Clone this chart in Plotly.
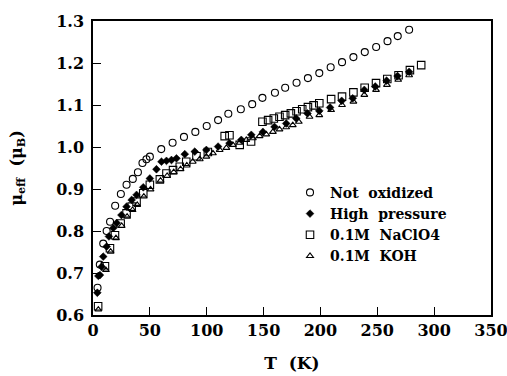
import plotly.graph_objects as go

# Not oxidized (open circles)
T_not = [4, 6, 9, 12, 15, 19.5, 24.5, 29.5, 35, 39.5, 43.5, 47, 50, 60, 70, 80, 90, 100, 110, 119, 130, 140,
         149, 160, 169, 179, 189, 199, 209, 219, 229, 239, 249, 259, 268, 278]
mu_not = [0.665, 0.72, 0.77, 0.80, 0.822, 0.860, 0.888, 0.910, 0.924, 0.940, 0.962, 0.971, 0.977, 0.995, 1.010,
          1.024, 1.036, 1.050, 1.064, 1.079, 1.090, 1.102, 1.117, 1.129, 1.141, 1.153, 1.164, 1.176, 1.190,
          1.202, 1.214, 1.226, 1.238, 1.252, 1.264, 1.279]

# High pressure (filled)
T_hp = [3.8, 4.7, 6.1, 7.6, 9, 12, 14, 17.8, 20.8, 25, 29.5, 34, 38.3, 44.2, 50, 55.8, 60.2, 64.6, 69, 73.4,
        80.7, 89.5, 99.7, 110, 120, 130.4, 139.2, 149.4, 159.6, 169.9, 178.7, 188.6, 199, 208.5, 218.7,
        228.4, 238.6, 248.2, 258.2, 267.8, 278]
mu_hp = [0.653, 0.693, 0.695, 0.715, 0.739, 0.763, 0.787, 0.807, 0.819, 0.838, 0.858, 0.874, 0.886, 0.904,
         0.925, 0.947, 0.965, 0.967, 0.969, 0.973, 0.983, 0.989, 0.993, 1.001, 1.009, 1.017, 1.029, 1.036,
         1.048, 1.056, 1.068, 1.080, 1.086, 1.094, 1.110, 1.116, 1.136, 1.144, 1.158, 1.169, 1.179]

# 0.1M NaClO4 (open squares)
T_na = [4.5, 10.5, 14.9, 19.3, 24.3, 29.5, 34, 38.3, 44.2, 50, 58.8, 64.6, 70.4, 76.3, 82, 91, 101,
        115.8, 120, 129, 139, 149, 154, 159, 164, 169, 174, 179, 184, 189, 194, 199, 209.4, 219, 229,
        238.9, 248.9, 258.8, 268.7, 278.7, 288.6]
mu_na = [0.621, 0.716, 0.759, 0.790, 0.818, 0.842, 0.858, 0.870, 0.890, 0.910, 0.923, 0.937, 0.945, 0.953,
         0.965, 0.978, 0.988, 1.026, 1.028, 1.005, 1.013, 1.060, 1.064, 1.068, 1.072, 1.076, 1.080, 1.085,
         1.090, 1.095, 1.099, 1.104, 1.114, 1.120, 1.130, 1.141, 1.152, 1.162, 1.171, 1.183, 1.195]

# 0.1M KOH (open triangles)
T_koh = [4.7, 11.4, 15.5, 20.2, 25.2, 30, 34.8, 38.9, 44.7, 50.6, 59.4, 65.2, 71, 77, 82.5, 87.7, 93.9,
         99.7, 105.5, 111.4, 117.3, 123, 129, 134.8, 140.6, 146.5, 152.4, 158.2, 164, 169.9, 175.7,
         181, 190.4, 199, 209.4, 219, 229, 238.6, 248.9, 258.5, 268.4, 278]
mu_koh = [0.613, 0.707, 0.751, 0.783, 0.812, 0.834, 0.850, 0.862, 0.882, 0.899, 0.920, 0.931, 0.940, 0.947,
          0.956, 0.965, 0.971, 0.977, 0.985, 0.993, 0.998, 1.005, 1.010, 1.017, 1.021, 1.026, 1.030, 1.036,
          1.042, 1.047, 1.052, 1.060, 1.072, 1.076, 1.088, 1.100, 1.108, 1.124, 1.136, 1.148, 1.160, 1.171]

x_ticks = [0, 50, 100, 150, 200, 250, 300, 350]
y_ticks = [0.6, 0.7, 0.8, 0.9, 1.0, 1.1, 1.2, 1.3]

FONT = "DejaVu Serif"

fig = go.Figure()
fig.add_trace(go.Scatter(x=T_not, y=mu_not, mode="markers", name="Not  oxidized",
                         marker=dict(symbol="circle-open", size=7, color="black", line=dict(width=1.1))))
fig.add_trace(go.Scatter(x=T_hp, y=mu_hp, mode="markers", name="High  pressure",
                         marker=dict(symbol="diamond", size=6, color="black", line=dict(width=0.5, color="black"))))
fig.add_trace(go.Scatter(x=T_na, y=mu_na, mode="markers", name="0.1M  NaClO4",
                         marker=dict(symbol="square-open", size=7.5, color="black", line=dict(width=1.1))))
fig.add_trace(go.Scatter(x=T_koh, y=mu_koh, mode="markers", name="0.1M  KOH",
                         marker=dict(symbol="triangle-up-open", size=6, color="black", line=dict(width=1.1))))

bold = dict(family=FONT, color="black", weight="bold")

fig.update_layout(
    width=507, height=376,
    margin=dict(l=93, r=16, t=21, b=61, autoexpand=False),
    paper_bgcolor="white", plot_bgcolor="white",
    font=dict(**bold, size=15),
    showlegend=True,
    legend=dict(x=0.495, y=0.47, xanchor="left", yanchor="top", bgcolor="rgba(0,0,0,0)",
                font=dict(**bold, size=14), itemwidth=30, tracegroupgap=0),
    xaxis=dict(range=[0, 350], tickvals=x_ticks, ticktext=[str(v) for v in x_ticks],
               showgrid=False, zeroline=False, showline=True, linecolor="black", linewidth=1.5,
               mirror=True, ticks="inside", ticklen=8, tickcolor="black", tickwidth=1.2,
               tickfont=dict(**bold, size=16), ticklabeloverflow="allow", automargin=False,
               title=dict(text="T  (K)", font=dict(**bold, size=17), standoff=18)),
    yaxis=dict(range=[0.6, 1.3], tickvals=y_ticks, ticktext=[f"{v:.1f}" for v in y_ticks],
               showgrid=False, zeroline=False, showline=True, linecolor="black", linewidth=1.5,
               mirror=True, ticks="inside", ticklen=8, tickcolor="black", tickwidth=1.2,
               tickfont=dict(**bold, size=16), ticklabelstandoff=4, automargin=False,
               title=dict(text="μ<sub>eff</sub>  (μ<sub>B</sub>)", font=dict(**bold, size=16),
                          standoff=30)),
)

fig.write_html("out.html")
